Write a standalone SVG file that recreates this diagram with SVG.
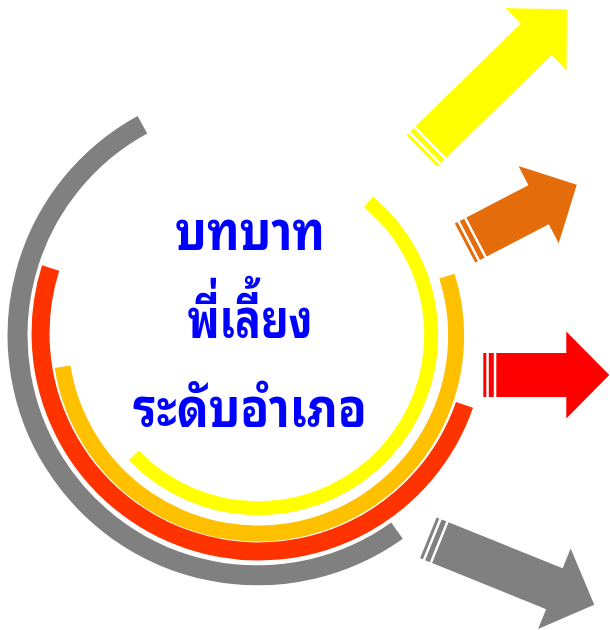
<svg xmlns="http://www.w3.org/2000/svg" width="610" height="630" viewBox="0 0 610 630">
  <style>
    .arc { fill: none; stroke-linecap: butt; }
    .title { font-family: "Noto Sans Thai Looped", "Noto Serif Thai", "Noto Sans Thai", "Noto Sans", "DejaVu Sans", sans-serif; font-weight: bold; font-size: 54px; fill: #0000FF; text-anchor: middle; }
  </style>
  <rect width="610" height="630" fill="#FFFFFF"/>
  <g id="arcs">
    <path id="arc-gray" class="arc" stroke="#808080" stroke-width="20" d="M397,530.6 A240,240 0 1 1 142.4,124.7"/>
    <path id="arc-red" class="arc" stroke="#FF3300" stroke-width="18" d="M464.5,404.9 A218,218 0 0 1 50.6,268"/>
    <path id="arc-orange" class="arc" stroke="#FFC000" stroke-width="16" d="M447,276.1 A198,198 0 1 1 62.6,366.7"/>
    <path id="arc-yellow" class="arc" stroke="#FFFF00" stroke-width="14" d="M368.5,201.9 A173,173 0 1 1 133.8,455.4"/>
  </g>
  <g id="arrow-yellow" fill="#FFFF00" transform="translate(421.7,151) rotate(-44.3)">
    <rect x="0" y="-22" width="3" height="44"/>
    <rect x="5.5" y="-22" width="5" height="44"/>
    <polygon points="13,-22 160,-22 160,-43.5 203,0 160,43.5 160,22 13,22"/>
  </g>
  <g id="arrow-orange" fill="#E46C0A" transform="translate(465,243) rotate(-27.5)">
    <rect x="0" y="-22" width="3" height="44"/>
    <rect x="5.5" y="-22" width="5" height="44"/>
    <polygon points="13,-22 83,-22 83,-43.5 126,0 83,43.5 83,22 13,22"/>
  </g>
  <g id="arrow-red" fill="#FF0000" transform="translate(483.3,375)">
    <rect x="0" y="-22" width="3" height="44"/>
    <rect x="5.5" y="-22" width="5" height="44"/>
    <polygon points="13,-22 83,-22 83,-43.5 126,0 83,43.5 83,22 13,22"/>
  </g>
  <g id="arrow-gray" fill="#808080" transform="translate(428.3,537.8) rotate(22)">
    <rect x="0" y="-22" width="3" height="44"/>
    <rect x="5.5" y="-22" width="5" height="44"/>
    <polygon points="13,-22 136,-22 136,-43.5 179,0 136,43.5 136,22 13,22"/>
  </g>
  <g id="title">
    <text class="title" x="250" y="250" textLength="150" lengthAdjust="spacingAndGlyphs">บทบาท</text>
    <text class="title" x="250" y="338" textLength="125" lengthAdjust="spacingAndGlyphs">พี่เลี้ยง</text>
    <text class="title" x="250" y="427" textLength="234" lengthAdjust="spacingAndGlyphs">ระดับอำเภอ</text>
  </g>
</svg>
